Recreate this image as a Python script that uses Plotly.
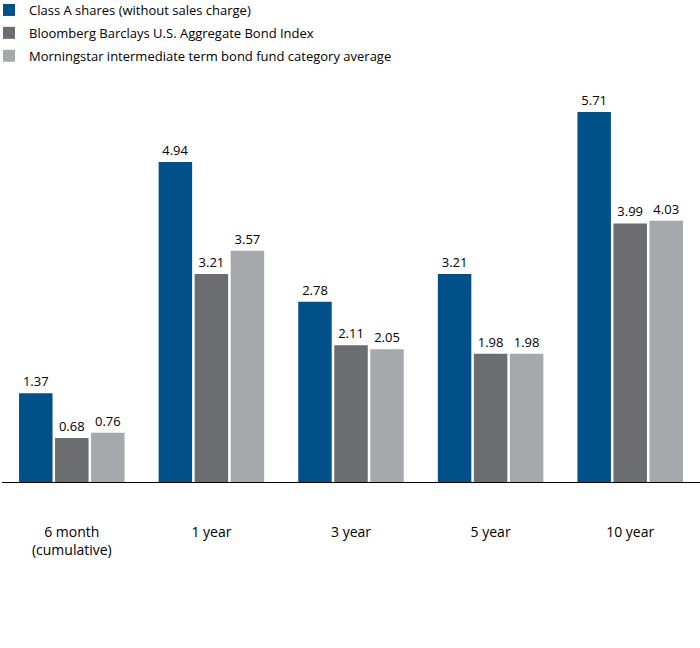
import plotly.graph_objects as go

categories = ["6 month<br>(cumulative)", "1 year", "3 year", "5 year", "10 year"]
series_names = [
    "Class A shares (without sales charge)",
    "Bloomberg Barclays U.S. Aggregate Bond Index",
    "Morningstar intermediate term bond fund category average",
]
class_a = [1.37, 4.94, 2.78, 3.21, 5.71]
bloomberg = [0.68, 3.21, 2.11, 1.98, 3.99]
morningstar = [0.76, 3.57, 2.05, 1.98, 4.03]
colors = ["#00518a", "#6c6d70", "#a6a8ab"]

FONT = "Open Sans"
fig = go.Figure()
for i, (name, vals, col) in enumerate(zip(series_names, [class_a, bloomberg, morningstar], colors)):
    fig.add_trace(go.Bar(
        x=categories, y=vals, name=name, legendgroup=f"g{i}",
        marker=dict(color=col, line=dict(width=0)),
        text=[f"{v:.2f}" for v in vals], textposition="outside", textangle=0,
        constraintext="none",
        textfont=dict(size=13, color="#000000", family=FONT),
        cliponaxis=False,
    ))

PLOT_H = 648 - 100 - 166
fig.update_layout(
    width=700, height=648,
    margin=dict(l=2, r=0, t=100, b=166, autoexpand=False),
    paper_bgcolor="white", plot_bgcolor="white",
    barmode="group", bargap=0.226, bargroupgap=0.07,
    font=dict(family=FONT, size=13, color="#000000"),
    showlegend=True,
    legend=dict(x=-13 / 698, y=1 + 105 / PLOT_H, xanchor="left", yanchor="top",
                font=dict(size=13, family=FONT), tracegroupgap=3,
                bgcolor="rgba(0,0,0,0)"),
    xaxis=dict(range=[-0.5, 4.5], showline=True, linecolor="#000000", linewidth=1,
               showgrid=False, ticks="outside", ticklen=37, tickcolor="rgba(0,0,0,0)",
               tickangle=0, tickfont=dict(size=14, family=FONT)),
    yaxis=dict(range=[0, 5.895], visible=False, showgrid=False, zeroline=False),
)
fig.write_html("out.html", config={"displayModeBar": False},
               post_script="document.body.style.margin='0';")
